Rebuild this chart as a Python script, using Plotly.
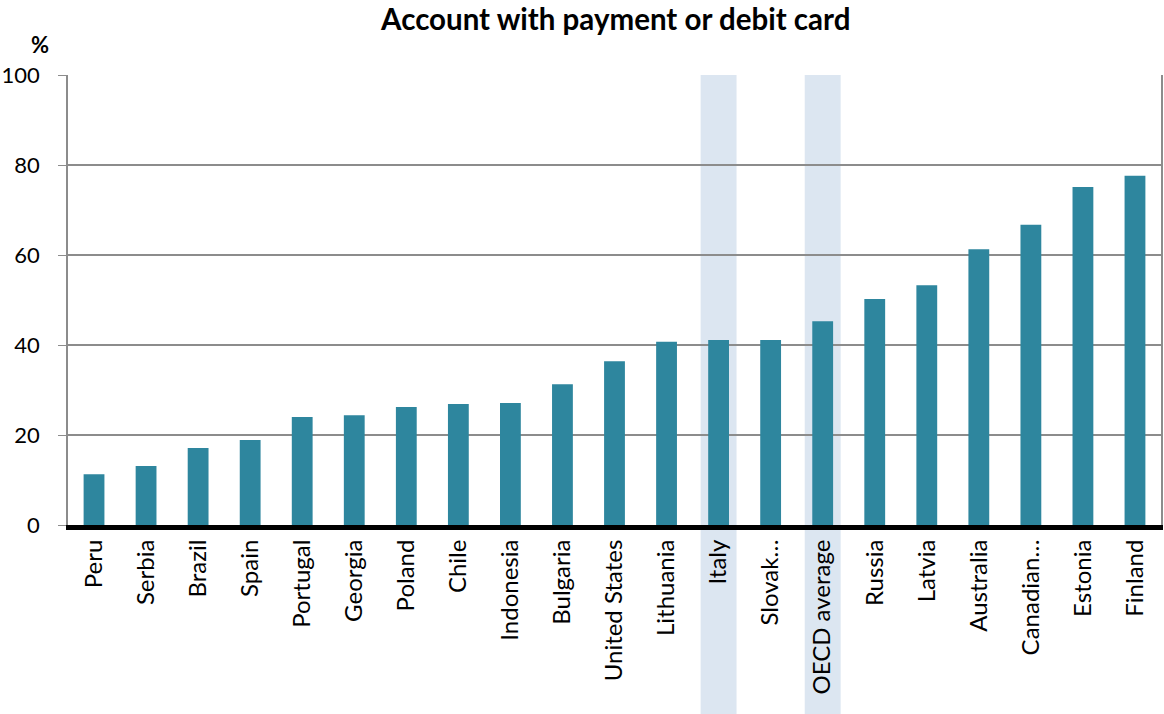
import plotly.graph_objects as go

categories = ["Peru", "Serbia", "Brazil", "Spain", "Portugal", "Georgia", "Poland", "Chile",
              "Indonesia", "Bulgaria", "United States", "Lithuania", "Italy", "Slovak…",
              "OECD average", "Russia", "Latvia", "Australia", "Canadian…", "Estonia", "Finland"]
values = [11.3, 13.1, 17.1, 18.9, 24.0, 24.4, 26.2, 26.9, 27.1, 31.3, 36.4, 40.7, 41.1, 41.1,
          45.3, 50.2, 53.3, 61.3, 66.7, 75.1, 77.6]
highlighted = ["Italy", "OECD average"]
y_ticks = [0, 20, 40, 60, 80, 100]

FONT = "Lato, 'Open Sans', sans-serif"

fig = go.Figure()
fig.add_trace(go.Bar(x=categories, y=values, marker_color="#2E869E",
                     marker_line_width=0, width=0.4))

for name in highlighted:
    i = categories.index(name)
    fig.add_shape(type="rect", xref="x", yref="paper", x0=i - 0.345, x1=i + 0.345,
                  y0=-0.45, y1=1, fillcolor="#DCE6F1", line_width=0, layer="below")

fig.update_layout(
    width=1164, height=714,
    margin=dict(l=68, r=3, t=75, b=189, autoexpand=False),
    paper_bgcolor="white", plot_bgcolor="white",
    showlegend=False,
    font=dict(family=FONT, color="black"),
    title=dict(text="<b>Account with payment or debit card</b>", x=0.529, xanchor="center",
               y=0.973, yanchor="middle", font=dict(size=29.5, family=FONT),
               automargin=False),
    annotations=[dict(text="<b>%</b>", xref="paper", yref="paper", x=-0.026, y=1.068,
                      xanchor="center", yanchor="middle", showarrow=False,
                      font=dict(size=22, family=FONT))],
    xaxis=dict(type="category", showline=True, linecolor="black", linewidth=5,
               ticks="", tickangle=-90, tickfont=dict(size=24, family=FONT),
               showgrid=False, automargin=False),
    yaxis=dict(range=[0, 100], tickvals=y_ticks, showgrid=True, gridcolor="#8C8C8C",
               gridwidth=1.5, showline=True, linecolor="#8C8C8C", linewidth=1.5,
               mirror=True, ticks="outside", ticklen=8, tickcolor="#8C8C8C",
               ticklabelstandoff=14, automargin=False,
               tickfont=dict(size=22, family=FONT), zeroline=False),
    bargap=0.6,
)

fig.write_html("out.html", config={"displayModeBar": False},
               post_script="document.body.style.margin='0';document.body.style.overflow='hidden';")
